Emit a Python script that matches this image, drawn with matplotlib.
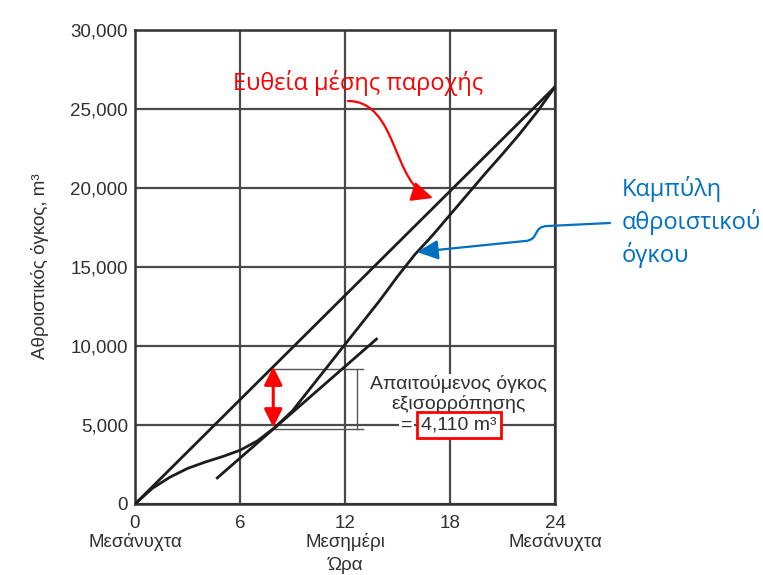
import matplotlib
matplotlib.use('Agg')
import matplotlib.pyplot as plt
from matplotlib.path import Path
from matplotlib.patches import FancyArrowPatch

# cumulative inflow volume (m3), hourly
hours = [0, 1, 2, 3, 4, 5, 6, 7, 8, 9, 10, 11, 12,
         13, 14, 15, 16, 17, 18, 19, 20, 21, 22, 23, 24]
cumulative = [0, 1000, 1700, 2250, 2650, 3000, 3400, 4000, 4850, 5900, 7300, 8700, 10100,
              11500, 12900, 14400, 15800, 17000, 18300, 19600, 20900, 22150, 23450, 24850, 26400]

# mean-flow straight line and the parallel tangent
avg_hours = [0, 24]
avg_volume = [0, 26400]
tangent_hours = [4.7, 13.8]
tangent_volume = [1650, 10440]

tangent_hour = 7.9
low_volume = 4850
high_volume = 8690

x_ticks = [0, 6, 12, 18, 24]
x_labels = ['0\nΜεσάνυχτα', '6', '12\nΜεσημέρι', '18', '24\nΜεσάνυχτα']
y_ticks = [0, 5000, 10000, 15000, 20000, 25000, 30000]
y_labels = ['0', '5,000', '10,000', '15,000', '20,000', '25,000', '30,000']

txt = '#303030'
ink = '#1c1c1c'
red = '#ff0000'
blue = '#0070c0'

fig = plt.figure(figsize=(7.63, 5.75), dpi=100)
ax = fig.add_axes([135 / 763, 1 - 504 / 575, 420 / 763, 474 / 575])

ax.plot(avg_hours, avg_volume, color=ink, lw=2.0, zorder=4)
ax.plot(hours, cumulative, color=ink, lw=2.0, zorder=4)
ax.plot(tangent_hours, tangent_volume, color=ink, lw=2.0, zorder=4)

ax.set_xlim(0, 24)
ax.set_ylim(0, 30000)
ax.set_xticks(x_ticks)
ax.set_xticklabels(x_labels, family='Liberation Sans', fontsize=13.5, color=txt,
                   linespacing=1.05)
ax.set_yticks(y_ticks)
ax.set_yticklabels(y_labels, family='Liberation Sans', fontsize=13.5, color=txt)
ax.tick_params(axis='x', length=0, pad=8)
ax.tick_params(axis='y', length=0, pad=5)
ax.grid(True, color='#4a4a4a', lw=1.6)
ax.set_axisbelow(True)
for s in ax.spines.values():
    s.set_color('#333333')
    s.set_linewidth(1.8)

fig.text(40 / 763, 1 - 266 / 575, 'Αθροιστικός όγκος, m³', rotation=90,
         ha='center', va='center', family='Liberation Sans', fontsize=13.5, color=txt)
fig.text(345 / 763, 1 - 565 / 575, 'Ώρα', ha='center', va='center',
         family='Liberation Sans', fontsize=13.5, color=txt)

# dimension bracket for the storage volume
ax.plot([7.8, 13.0], [high_volume - 120, high_volume - 120], color='#555555', lw=1.0, zorder=3)
ax.plot([7.8, 13.0], [low_volume - 120, low_volume - 120], color='#555555', lw=1.0, zorder=3)
ax.plot([12.7, 12.7], [high_volume - 120, low_volume - 120], color='#555555', lw=1.0, zorder=3)

ax.add_patch(FancyArrowPatch((tangent_hour, low_volume), (tangent_hour, high_volume),
                             arrowstyle='<|-|>,head_length=1.1,head_width=0.55',
                             mutation_scale=10, color=red, lw=2.2, shrinkA=0, shrinkB=0,
                             zorder=6))

ax.text(18.5, 6950, 'Απαιτούμενος όγκος\nεξισορρόπησης', ha='center', va='center',
        family='Liberation Sans', fontsize=14, color=txt, linespacing=1.1,
        bbox=dict(boxstyle='square,pad=0.1', fc='white', ec='none'), zorder=5)
ax.text(15.85, 5000, '=', ha='right', va='center', family='Liberation Sans',
        fontsize=14, color=txt,
        bbox=dict(boxstyle='square,pad=0.1', fc='white', ec='none'), zorder=5)
ax.text(18.5, 5000, '4,110 m³', ha='center', va='center', family='Liberation Sans',
        fontsize=14, color=txt,
        bbox=dict(boxstyle='square,pad=0.22', fc='white', ec=red, lw=2), zorder=5)

# red label and its curved arrow
ax.text(5.6, 26650, 'Ευθεία μέσης παροχής', ha='left', va='center',
        family='Open Sans', fontsize=17, color=red, zorder=6)
red_path = Path([(12.17, 25506), (15.03, 25506), (14.69, 20190), (17.03, 19367)],
                [Path.MOVETO, Path.CURVE4, Path.CURVE4, Path.CURVE4])
ax.add_patch(FancyArrowPatch(path=red_path, arrowstyle='-|>,head_length=1.3,head_width=0.6',
                             mutation_scale=10, color=red, lw=1.6, zorder=6))

# blue label and its arrow
ax.text(27.83, 17850, 'Καμπύλη\nαθροιστικού\nόγκου', ha='left', va='center',
        family='Open Sans', fontsize=17, color=blue, linespacing=1.35, clip_on=False)
blue_path = Path([(27.14, 17785), (23.6, 17595), (22.69, 17595), (23.14, 16709),
                  (22.29, 16646), (16.11, 15949)],
                 [Path.MOVETO, Path.LINETO, Path.CURVE4, Path.CURVE4, Path.CURVE4,
                  Path.LINETO])
ax.add_patch(FancyArrowPatch(path=blue_path, arrowstyle='-|>,head_length=1.3,head_width=0.6',
                             mutation_scale=10, color=blue, lw=1.6, zorder=6, clip_on=False))

fig.savefig('out.png', dpi=100)
